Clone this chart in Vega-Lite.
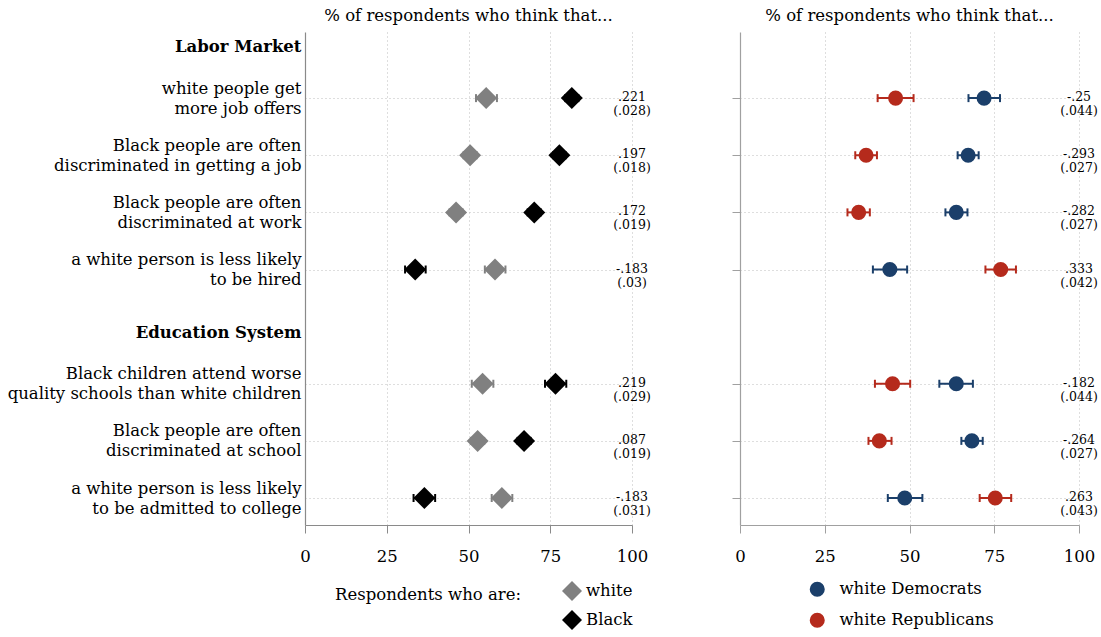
{
  "$schema": "https://vega.github.io/schema/vega-lite/v6.json",
  "padding": {"left": 5, "top": 7, "right": 5, "bottom": 5},
  "background": "white",
  "config": {
    "font": "DejaVu Serif",
    "view": {"stroke": null},
    "title": {"font": "DejaVu Serif", "fontSize": 16.5, "fontWeight": "normal", "color": "black", "anchor": "middle", "offset": 8},
    "axis": {"labelFont": "DejaVu Serif", "titleFont": "DejaVu Serif"},
    "legend": {"labelFont": "DejaVu Serif", "titleFont": "DejaVu Serif"}
  },
  "resolve": {"scale": {"color": "independent", "y": "independent", "x": "independent"}, "legend": {"color": "independent"}},
  "datasets": {
    "left": [
      {"item": "white people get|more job offers", "group": "white", "mean": 55.4, "lo": 52.3, "hi": 58.7},
      {"item": "white people get|more job offers", "group": "Black", "mean": 81.6, "lo": 79.6, "hi": 83.6},
      {"item": "Black people are often|discriminated in getting a job", "group": "white", "mean": 50.5, "lo": 48.5, "hi": 52.5},
      {"item": "Black people are often|discriminated in getting a job", "group": "Black", "mean": 77.8, "lo": 75.9, "hi": 79.7},
      {"item": "Black people are often|discriminated at work", "group": "white", "mean": 46.2, "lo": 44.2, "hi": 48.2},
      {"item": "Black people are often|discriminated at work", "group": "Black", "mean": 70.1, "lo": 68.1, "hi": 72.1},
      {"item": "a white person is less likely|to be hired", "group": "white", "mean": 58.1, "lo": 55.0, "hi": 61.3},
      {"item": "a white person is less likely|to be hired", "group": "Black", "mean": 33.7, "lo": 30.6, "hi": 36.9},
      {"item": "Black children attend worse|quality schools than white children", "group": "white", "mean": 54.3, "lo": 51.0, "hi": 57.6},
      {"item": "Black children attend worse|quality schools than white children", "group": "Black", "mean": 76.6, "lo": 73.4, "hi": 79.9},
      {"item": "Black people are often|discriminated at school", "group": "white", "mean": 52.8, "lo": 50.8, "hi": 54.8},
      {"item": "Black people are often|discriminated at school", "group": "Black", "mean": 67.0, "lo": 65.0, "hi": 69.0},
      {"item": "a white person is less likely|to be admitted to college", "group": "white", "mean": 60.2, "lo": 57.1, "hi": 63.4},
      {"item": "a white person is less likely|to be admitted to college", "group": "Black", "mean": 36.5, "lo": 33.2, "hi": 39.8}
    ],
    "right": [
      {"item": "white people get|more job offers", "group": "white Democrats", "mean": 72.0, "lo": 67.4, "hi": 76.7},
      {"item": "white people get|more job offers", "group": "white Republicans", "mean": 45.9, "lo": 40.6, "hi": 51.2},
      {"item": "Black people are often|discriminated in getting a job", "group": "white Democrats", "mean": 67.3, "lo": 64.2, "hi": 70.4},
      {"item": "Black people are often|discriminated in getting a job", "group": "white Republicans", "mean": 37.2, "lo": 34.0, "hi": 40.4},
      {"item": "Black people are often|discriminated at work", "group": "white Democrats", "mean": 63.8, "lo": 60.6, "hi": 67.1},
      {"item": "Black people are often|discriminated at work", "group": "white Republicans", "mean": 35.0, "lo": 31.7, "hi": 38.3},
      {"item": "a white person is less likely|to be hired", "group": "white Democrats", "mean": 44.2, "lo": 39.2, "hi": 49.3},
      {"item": "a white person is less likely|to be hired", "group": "white Republicans", "mean": 76.9, "lo": 72.4, "hi": 81.4},
      {"item": "Black children attend worse|quality schools than white children", "group": "white Democrats", "mean": 63.8, "lo": 58.8, "hi": 68.7},
      {"item": "Black children attend worse|quality schools than white children", "group": "white Republicans", "mean": 45.0, "lo": 39.8, "hi": 50.2},
      {"item": "Black people are often|discriminated at school", "group": "white Democrats", "mean": 68.4, "lo": 65.3, "hi": 71.6},
      {"item": "Black people are often|discriminated at school", "group": "white Republicans", "mean": 41.1, "lo": 37.9, "hi": 44.7},
      {"item": "a white person is less likely|to be admitted to college", "group": "white Democrats", "mean": 48.6, "lo": 43.6, "hi": 53.8},
      {"item": "a white person is less likely|to be admitted to college", "group": "white Republicans", "mean": 75.3, "lo": 70.7, "hi": 80.0}
    ],
    "leftNotes": [
      {"item": "white people get|more job offers", "pos": 100, "est": ".221", "se": "(.028)"},
      {"item": "Black people are often|discriminated in getting a job", "pos": 100, "est": ".197", "se": "(.018)"},
      {"item": "Black people are often|discriminated at work", "pos": 100, "est": ".172", "se": "(.019)"},
      {"item": "a white person is less likely|to be hired", "pos": 100, "est": "-.183", "se": "(.03)"},
      {"item": "Black children attend worse|quality schools than white children", "pos": 100, "est": ".219", "se": "(.029)"},
      {"item": "Black people are often|discriminated at school", "pos": 100, "est": ".087", "se": "(.019)"},
      {"item": "a white person is less likely|to be admitted to college", "pos": 100, "est": "-.183", "se": "(.031)"}
    ],
    "rightNotes": [
      {"item": "white people get|more job offers", "pos": 100, "est": "-.25", "se": "(.044)"},
      {"item": "Black people are often|discriminated in getting a job", "pos": 100, "est": "-.293", "se": "(.027)"},
      {"item": "Black people are often|discriminated at work", "pos": 100, "est": "-.282", "se": "(.027)"},
      {"item": "a white person is less likely|to be hired", "pos": 100, "est": ".333", "se": "(.042)"},
      {"item": "Black children attend worse|quality schools than white children", "pos": 100, "est": "-.182", "se": "(.044)"},
      {"item": "Black people are often|discriminated at school", "pos": 100, "est": "-.264", "se": "(.027)"},
      {"item": "a white person is less likely|to be admitted to college", "pos": 100, "est": ".263", "se": "(.043)"}
    ]
  },
  "spacing": 108,
  "bounds": "flush",
  "hconcat": [
    {
      "width": 327,
      "height": 493,
      "title": "% of respondents who think that...",
      "layer": [
        {
          "data": {"name": "left"},
          "mark": {"type": "rule", "strokeWidth": 2, "opacity": 1},
          "encoding": {
            "y": {"field": "item", "type": "nominal",
              "scale": {"type": "point", "domain": ["Labor Market", "white people get|more job offers", "Black people are often|discriminated in getting a job", "Black people are often|discriminated at work", "a white person is less likely|to be hired", "Education System", "Black children attend worse|quality schools than white children", "Black people are often|discriminated at school", "a white person is less likely|to be admitted to college"], "padding": 0.315, "align": 0.25},
              "axis": {
                "title": null, "ticks": false, "domainColor": "#8a8a8a", "domainWidth": 1.2,
                "labelExpr": "split(datum.label, '|')",
                "labelFontSize": 16.5, "labelLineHeight": 20, "labelColor": "black", "labelPadding": 4, "labelLimit": 400, "minExtent": 300,
                "labelFontWeight": {"condition": {"test": "datum.value == 'Labor Market' || datum.value == 'Education System'", "value": "bold"}, "value": "normal"},
                "labelOffset": {"condition": {"test": "datum.value == 'Labor Market' || datum.value == 'Education System'", "value": 6}, "value": -10},
                "grid": true, "gridColor": "#bdbdbd", "gridDash": [1, 3],
                "gridOpacity": {"condition": {"test": "datum.value == 'Labor Market' || datum.value == 'Education System'", "value": 0}, "value": 1}
              }
            },
            "x": {"field": "lo", "type": "quantitative",
              "scale": {"domain": [0, 100], "nice": false},
              "axis": {"title": null, "values": [0, 25, 50, 75, 100], "domainColor": "#8a8a8a", "tickColor": "#8a8a8a", "tickSize": 8, "labelFontSize": 16.5, "labelColor": "black", "labelPadding": 15, "labelFlush": false,
                "grid": true, "gridColor": "#bdbdbd", "gridDash": [1, 3],
                "gridOpacity": {"condition": {"test": "datum.value == 0", "value": 0}, "value": 1}}
            },
            "x2": {"field": "hi"},
            "color": {"field": "group", "type": "nominal", "scale": {"domain": ["white", "Black"], "range": ["#808080", "#000000"]},
              "legend": {"orient": "none", "legendX": 30, "legendY": 549, "title": "Respondents who are:", "titleOrient": "left", "titleAnchor": "start", "titleLimit": 400, "titleFontSize": 16.5, "titleFontWeight": "normal", "titleColor": "black", "titlePadding": 40, "titleBaseline": "line-top", "titleLineHeight": 28, "symbolType": "diamond", "symbolSize": 400, "symbolStrokeWidth": 0, "symbolOpacity": 1, "labelFontSize": 16.5, "labelColor": "black", "labelOffset": 4, "rowPadding": 9}
            }
          }
        },
        {
          "data": {"name": "left"},
          "mark": {"type": "tick", "thickness": 2, "size": 8, "orient": "vertical", "opacity": 1},
          "encoding": {"y": {"field": "item", "type": "nominal"}, "x": {"field": "lo", "type": "quantitative"}, "color": {"field": "group", "type": "nominal"}}
        },
        {
          "data": {"name": "left"},
          "mark": {"type": "tick", "thickness": 2, "size": 8, "orient": "vertical", "opacity": 1},
          "encoding": {"y": {"field": "item", "type": "nominal"}, "x": {"field": "hi", "type": "quantitative"}, "color": {"field": "group", "type": "nominal"}}
        },
        {
          "data": {"name": "left"},
          "mark": {"type": "point", "shape": "diamond", "filled": true, "opacity": 1, "size": 484},
          "encoding": {
            "y": {"field": "item", "type": "nominal"},
            "x": {"field": "mean", "type": "quantitative"},
            "color": {"field": "group", "type": "nominal"}
          }
        },
        {
          "data": {"name": "leftNotes"},
          "mark": {"type": "text", "fontSize": 12.5, "align": "center", "baseline": "middle", "dy": -1, "color": "black"},
          "encoding": {"y": {"field": "item", "type": "nominal"}, "x": {"field": "pos", "type": "quantitative"}, "text": {"field": "est"}}
        },
        {
          "data": {"name": "leftNotes"},
          "mark": {"type": "text", "fontSize": 12.5, "align": "center", "baseline": "middle", "dy": 13, "color": "black"},
          "encoding": {"y": {"field": "item", "type": "nominal"}, "x": {"field": "pos", "type": "quantitative"}, "text": {"field": "se"}}
        }
      ]
    },
    {
      "width": 339,
      "height": 493,
      "title": "% of respondents who think that...",
      "layer": [
        {
          "data": {"name": "right"},
          "mark": {"type": "rule", "strokeWidth": 2, "opacity": 1},
          "encoding": {
            "y": {"field": "item", "type": "nominal",
              "scale": {"type": "point", "domain": ["Labor Market", "white people get|more job offers", "Black people are often|discriminated in getting a job", "Black people are often|discriminated at work", "a white person is less likely|to be hired", "Education System", "Black children attend worse|quality schools than white children", "Black people are often|discriminated at school", "a white person is less likely|to be admitted to college"], "padding": 0.315, "align": 0.25},
              "axis": {
                "title": null, "labels": false, "ticks": true, "tickSize": 8, "tickColor": "#a0a0a0", "domainColor": "#a0a0a0", "domainWidth": 1.2,
                "tickOpacity": {"condition": {"test": "datum.value == 'Labor Market' || datum.value == 'Education System'", "value": 0}, "value": 1},
                "grid": true, "gridColor": "#bdbdbd", "gridDash": [1, 3],
                "gridOpacity": {"condition": {"test": "datum.value == 'Labor Market' || datum.value == 'Education System'", "value": 0}, "value": 1}
              }
            },
            "x": {"field": "lo", "type": "quantitative",
              "scale": {"domain": [0, 100], "nice": false},
              "axis": {"title": null, "values": [0, 25, 50, 75, 100], "domainColor": "#a0a0a0", "tickColor": "#a0a0a0", "tickSize": 8, "labelFontSize": 16.5, "labelColor": "black", "labelPadding": 15, "labelFlush": false,
                "grid": true, "gridColor": "#bdbdbd", "gridDash": [1, 3],
                "gridOpacity": {"condition": {"test": "datum.value == 0", "value": 0}, "value": 1}}
            },
            "x2": {"field": "hi"},
            "color": {"field": "group", "type": "nominal", "scale": {"domain": ["white Democrats", "white Republicans"], "range": ["#1b3f6a", "#b52a1c"]},
              "legend": {"orient": "none", "legendX": 69, "legendY": 549, "title": null, "symbolType": "circle", "symbolSize": 227, "symbolStrokeWidth": 0, "symbolOpacity": 1, "labelFontSize": 16.5, "labelColor": "black", "labelOffset": 14, "rowPadding": 14}
            }
          }
        },
        {
          "data": {"name": "right"},
          "mark": {"type": "tick", "thickness": 2, "size": 8, "orient": "vertical", "opacity": 1},
          "encoding": {"y": {"field": "item", "type": "nominal"}, "x": {"field": "lo", "type": "quantitative"}, "color": {"field": "group", "type": "nominal"}}
        },
        {
          "data": {"name": "right"},
          "mark": {"type": "tick", "thickness": 2, "size": 8, "orient": "vertical", "opacity": 1},
          "encoding": {"y": {"field": "item", "type": "nominal"}, "x": {"field": "hi", "type": "quantitative"}, "color": {"field": "group", "type": "nominal"}}
        },
        {
          "data": {"name": "right"},
          "mark": {"type": "point", "shape": "circle", "filled": true, "opacity": 1, "size": 227},
          "encoding": {
            "y": {"field": "item", "type": "nominal"},
            "x": {"field": "mean", "type": "quantitative"},
            "color": {"field": "group", "type": "nominal"}
          }
        },
        {
          "data": {"name": "rightNotes"},
          "mark": {"type": "text", "fontSize": 12.5, "align": "center", "baseline": "middle", "dy": -1, "color": "black"},
          "encoding": {"y": {"field": "item", "type": "nominal"}, "x": {"field": "pos", "type": "quantitative"}, "text": {"field": "est"}}
        },
        {
          "data": {"name": "rightNotes"},
          "mark": {"type": "text", "fontSize": 12.5, "align": "center", "baseline": "middle", "dy": 13, "color": "black"},
          "encoding": {"y": {"field": "item", "type": "nominal"}, "x": {"field": "pos", "type": "quantitative"}, "text": {"field": "se"}}
        }
      ]
    }
  ]
}
